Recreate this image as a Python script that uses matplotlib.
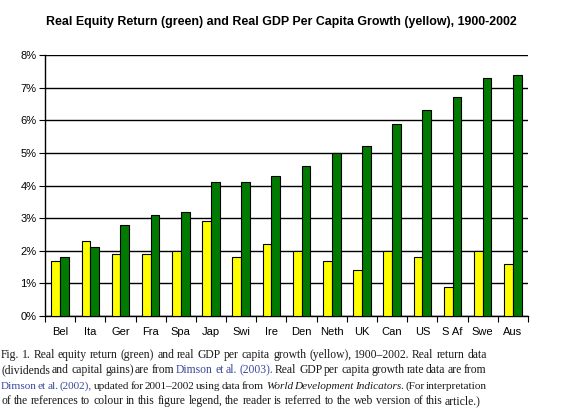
import matplotlib
matplotlib.use("Agg")
import matplotlib.pyplot as plt
import numpy as np
from matplotlib.ticker import MultipleLocator, FuncFormatter
from matplotlib.font_manager import FontProperties

countries = ['Bel', 'Ita', 'Ger', 'Fra', 'Spa', 'Jap', 'Swi', 'Ire',
             'Den', 'Neth', 'UK', 'Can', 'US', 'S Af', 'Swe', 'Aus']
gdp_growth = [1.7, 2.3, 1.9, 1.9, 2.0, 2.9, 1.8, 2.2,
              2.0, 1.7, 1.4, 2.0, 1.8, 0.9, 2.0, 1.6]
equity_return = [1.8, 2.1, 2.8, 3.1, 3.2, 4.1, 4.1, 4.3,
                 4.6, 5.0, 5.2, 5.9, 6.3, 6.7, 7.3, 7.4]

title = "Real Equity Return (green) and Real GDP Per Capita Growth (yellow), 1900-2002"

# caption lines: list of (text, style) pieces
BLUE = '#3a4a9a'
caption = [
    [("Fig. 1. Real equity return (green) and real GDP per capita growth (yellow), 1900\u20132002. Real return data", 'n')],
    [("(dividends and capital gains) are from", 'n'), ("Dimson et al. (2003).", 'b'),
     ("Real GDP per capita growth rate data are from", 'n')],
    [("Dimson et al. (2002),", 'b'), ("updated for 2001\u20132002 using data from", 'n'),
     ("World Development Indicators.", 'i'), ("(For interpretation", 'n')],
    [("of the references to colour in this figure legend, the reader is referred to the web version of this article.)", 'n')],
]

W, H = 585, 417
fig = plt.figure(figsize=(W / 100, H / 100), dpi=100)
fig.patch.set_facecolor('white')
ax = fig.add_axes([45 / W, 1 - 316 / H, (528 - 45) / W, (316 - 55) / H])

x = np.arange(len(countries))
bw = 0.29
ax.bar(x - bw / 2, gdp_growth, bw, color='#ffff00', edgecolor='black', linewidth=0.8, zorder=3)
ax.bar(x + bw / 2, equity_return, bw, color='#007a00', edgecolor='black', linewidth=0.8, zorder=3)

ax.set_xlim(-0.5, len(countries) - 0.5)
ax.set_ylim(0, 8)
ax.yaxis.set_major_locator(MultipleLocator(1))
ax.yaxis.set_major_formatter(FuncFormatter(lambda v, p: f"{v:.0f}%"))
ax.grid(axis='y', color='black', linewidth=1.0, zorder=0)
ax.set_axisbelow(True)

ax.set_xticks(x)
ax.set_xticklabels(countries, fontsize=8, family='Liberation Sans')
ax.set_xticks(np.arange(len(countries) + 1) - 0.5, minor=True)
ax.tick_params(axis='x', which='major', length=0, pad=8)
ax.tick_params(axis='x', which='minor', length=4, width=0.8, direction='out')
ax.tick_params(axis='y', length=4, width=0.8, direction='out', labelsize=8, pad=2)
for lab in ax.get_yticklabels():
    lab.set_family('Liberation Sans')
for s in ['top', 'right']:
    ax.spines[s].set_visible(False)
ax.spines['left'].set_linewidth(1.0)
ax.spines['bottom'].set_linewidth(1.0)

fig.text(281 / W, 1 - 22 / H, title, ha='center', va='center',
         fontsize=8.9, fontweight='bold', family='Liberation Sans')

# caption, justified word by word (baseline aligned on whole pixels)
renderer = fig.canvas.get_renderer()
left, right = 1, 487
line_base = [358, 373, 389, 404]
line_fs = [8.4, 8.4, 8.1, 8.4]
for li, pieces in enumerate(caption):
    fp_n = FontProperties(family='Liberation Serif', size=line_fs[li])
    fp_i = FontProperties(family='Liberation Serif', style='italic', size=line_fs[li])
    words = []
    for txt, st in pieces:
        fp = fp_i if st == 'i' else fp_n
        col = BLUE if st == 'b' else '#1a1a1a'
        for w in txt.split(' '):
            wd = renderer.get_text_width_height_descent(w, fp, ismath=False)[0]
            words.append((w, fp, col, wd))
    total = sum(wd for _, _, _, wd in words)
    space = 2.9
    if li < len(caption) - 1:
        space = (right - left - total) / (len(words) - 1)
    xpos = left
    for w, fp, col, wd in words:
        fig.text(round(xpos) / W, (H - line_base[li]) / H, w, fontproperties=fp, color=col,
                 va='baseline', ha='left')
        xpos += wd + space

fig.savefig('out.png', dpi=100)
